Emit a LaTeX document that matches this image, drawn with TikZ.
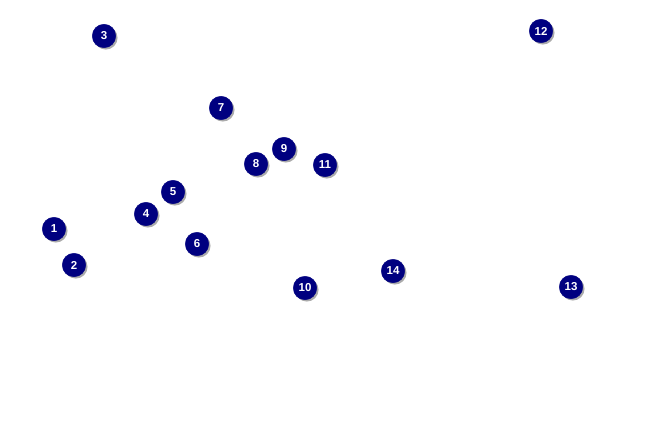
\documentclass[tikz,border=0pt]{standalone}
\usepackage{fontspec}
\setmainfont{Liberation Sans}
\definecolor{navy}{RGB}{0,0,128}
\definecolor{shade}{RGB}{150,150,150}
\tikzset{
  ball/.style={circle, fill=navy, draw=navy, minimum size=23.5pt, inner sep=0pt,
    text=white, font=\fontsize{11.5}{13}\selectfont\bfseries,
    preaction={draw=none, fill=shade, opacity=0.8, transform canvas={shift={(1.8pt,-1.8pt)}}}}
}
\begin{document}
\begin{tikzpicture}[x=1pt,y=-1pt]
\useasboundingbox[fill=white] (0,0) rectangle (650,425);
\node[ball] (n1) at (54,229) {1};
\node[ball] (n2) at (74,265) {2};
\node[ball] (n3) at (104,36) {3};
\node[ball] (n4) at (146,214) {4};
\node[ball] (n5) at (173,192) {5};
\node[ball] (n6) at (197,244) {6};
\node[ball] (n7) at (221,108) {7};
\node[ball] (n8) at (256,164) {8};
\node[ball] (n9) at (284,149) {9};
\node[ball] (n10) at (305,288) {10};
\node[ball] (n11) at (325,165) {11};
\node[ball] (n12) at (541,31) {12};
\node[ball] (n13) at (571,287) {13};
\node[ball] (n14) at (393,271) {14};
\end{tikzpicture}
\end{document}
